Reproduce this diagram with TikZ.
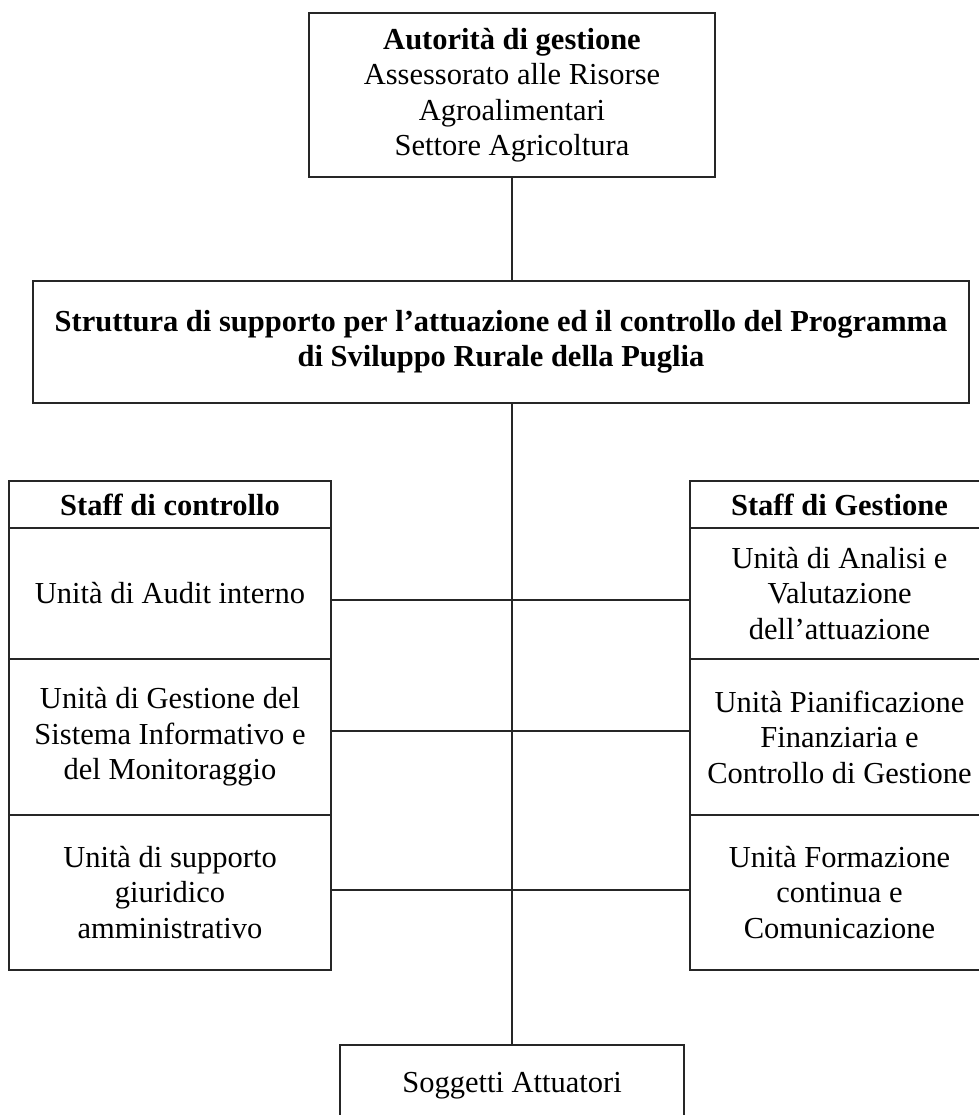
\documentclass[tikz,border=0pt]{standalone}
\usepackage{fontspec}
\setmainfont{Liberation Serif}
\begin{document}
\begin{tikzpicture}[x=1bp,y=-1bp,
  box/.style={draw=black!85,line width=1.3bp,rectangle,inner sep=0pt,align=center,
    font=\fontsize{30.5bp}{35.5bp}\selectfont},
  leftcol/.style={box,minimum width=322bp},
  rightcol/.style={box,minimum width=299bp},
  conn/.style={draw=black!85,line width=1.3bp}]
\clip (0,0) rectangle (979,1115);
\fill[white] (0,0) rectangle (979,1115);
% top
\node[box,minimum width=406bp,minimum height=164bp] (top) at (512,95)
  {\textbf{Autorità di gestione}\\Assessorato alle Risorse\\Agroalimentari\\Settore Agricoltura};
\node[box,minimum width=936bp,minimum height=122bp] (strut) at (501,342)
  {\textbf{Struttura di supporto per l’attuazione ed il controllo del Programma}\\\textbf{di Sviluppo Rurale della Puglia}};
% left column
\node[leftcol,minimum height=47bp] (lh) at (170,504.5) {\textbf{Staff di controllo}};
\node[leftcol,minimum height=131bp] (l1) at (170,593.5) {Unità di Audit interno};
\node[leftcol,minimum height=156bp] (l2) at (170,737) {Unità di Gestione del\\Sistema Informativo e\\del Monitoraggio};
\node[leftcol,minimum height=155bp] (l3) at (170,892.5) {Unità di supporto\\giuridico\\amministrativo};
% right column
\node[rightcol,minimum height=47bp] (rh) at (839.5,504.5) {\textbf{Staff di Gestione}};
\node[rightcol,minimum height=131bp] (r1) at (839.5,593.5) {Unità di Analisi e\\Valutazione\\dell’attuazione};
\node[rightcol,minimum height=156bp] (r2) at (839.5,737) {Unità Pianificazione\\Finanziaria e\\Controllo di Gestione};
\node[rightcol,minimum height=155bp] (r3) at (839.5,892.5) {Unità Formazione\\continua e\\Comunicazione};
% bottom
\node[box,minimum width=344bp,minimum height=82bp] (sogg) at (512,1086) {Soggetti Attuatori};
% connectors
\draw[conn] (top.south) -- (top.south |- strut.north);
\draw[conn] (strut.south -| top.south) -- (sogg.north);
\draw[conn] ([yshift=-6.5bp]l1.east) -- ([yshift=-6.5bp]l1.east -| r1.west);
\draw[conn] ([yshift=6bp]l2.east) -- ([yshift=6bp]l2.east -| r2.west);
\draw[conn] ([yshift=2.5bp]l3.east) -- ([yshift=2.5bp]l3.east -| r3.west);
\end{tikzpicture}
\end{document}
